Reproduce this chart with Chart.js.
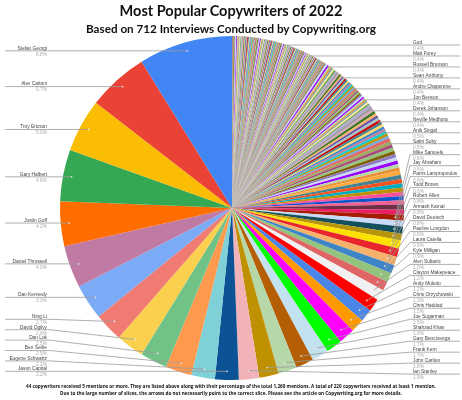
<!DOCTYPE html>
<html>
<head>
<meta charset="utf-8">
<script src="https://cdn.jsdelivr.net/npm/chart.js@4.4.1/dist/chart.umd.min.js"></script>
<style>
  body { margin: 0; background: #fff; }
  #wrap { position: relative; width: 462px; height: 400px; overflow: hidden; }
  .txt { position: absolute; left: 0; width: 462px; text-align: center; color: #111; white-space: nowrap; font-weight: 700; }
  #t1 { top: 2px; font: 700 14.5px Lato, sans-serif; line-height: 18px; }
  #t2 { top: 21px; font: 700 11.7px Lato, sans-serif; line-height: 14px; }
  .foot { font: 700 4.65px "Open Sans", sans-serif; line-height: 6px; }
</style>
</head>
<body>
<div id="wrap">
  <canvas id="chart" width="462" height="400"></canvas>
  <div class="txt" id="t1">Most Popular Copywriters of 2022</div>
  <div class="txt" id="t2">Based on 712 Interviews Conducted by Copywriting.org</div>
  <div class="txt foot" style="top:383px">44 copywriters received 5 mentions or more. They are listed above along with their percentage of the total 1,260 mentions. A total of 220 copywriters received at least 1 mention.</div>
  <div class="txt foot" style="top:389.5px">Due to the large number of slices, the arrows do not necessarily point to the correct slice. Please see the article on Copywriting.org for more details.</div>
</div>
<script>
// copywriters with 1-4 mentions (176 of them), smallest first
const smallMentions = [
  1,1,1,1,1,1,1,1,1,1,1,1,1,1,1,1,1,1,1,1,
  1,1,1,1,1,1,1,1,1,1,1,1,1,1,1,1,1,1,1,1,
  1,1,1,1,1,1,1,1,1,1,1,1,1,1,1,1,1,1,1,1,
  1,1,1,1,1,1,1,1,1,1,1,1,1,1,1,1,1,1,1,1,
  1,1,1,1,1,1,1,1,1,1,1,1,1,1,1,1,1,1,1,1,
  1,1,1,1,1,1,1,1,1,1,1,1,1,1,1,1,
  2,2,2,2,2,2,2,2,2,2,2,2,2,2,2,2,2,2,2,2,
  2,2,2,2,2,2,2,2,2,2,2,2,2,2,2,
  3,3,3,3,3,3,3,3,3,3,3,3,3,3,3,
  4,4,4,4,4,4,4,4,4,4
];

// the 44 named copywriters (5+ mentions), smallest first
const names = [
  "God", "Matt Furey", "Russell Brunson", "Sean Anthony", "Andre Chaperone",
  "Jon Benson", "Derek Johanson", "Neville Medhora", "Anik Singal", "Sabri Suby",
  "Mike Samuels", "Jay Abraham", "Parris Lampropoulos", "Todd Brown", "Robert Allen",
  "Armash Kamal", "David Deutsch", "Pauline Longdon", "Laura Catella", "Kyle Milligan",
  "Alen Sultanic", "Clayton Makepeace", "Andy Mukolo", "Chris Orzychowski", "Chris Haddad",
  "Joe Sugarman", "Shahzad Khan", "Gary Bencivenga", "Frank Kern", "John Carlton",
  "Ian Stanley", "Jason Capital", "Eugene Schwartz", "Ben Settle", "Dan Lok",
  "David Ogilvy", "Ning Li", "Dan Kennedy", "Daniel Throssell", "Justin Goff",
  "Gary Halbert", "Troy Ericson", "Alex Cattoni", "Stefan Georgi"
];
const mentions = [
  5, 5, 5, 5, 5,
  5, 5, 5, 6, 6,
  7, 7, 8, 8, 10,
  10, 10, 10, 11, 11,
  13, 15, 15, 16, 19,
  19, 20, 21, 22, 23,
  24, 28, 28, 31, 32,
  33, 34, 42, 50, 53,
  61, 63, 72, 111
];
const totalMentions = 1260;

const namedColors = [
  "#FFAB40", "#45818E", "#F4511E", "#00ACC1", "#BF9000",
  "#FF4F9A", "#1155CC", "#F06292", "#6D2E46", "#E91E63",
  "#A61C00", "#C9DAF8", "#134F5C", "#B7950B", "#FFE100",
  "#E8262C", "#F6B26B", "#3D85C6", "#93C47D", "#E06666",
  "#F1F1F1", "#FF0000", "#4A86E8", "#FF9900", "#FF00FF",
  "#00FF00", "#C3E2EF", "#B45F06", "#B6D7A8", "#BF9000",
  "#F2B3B8", "#0B5394", "#7ED1D7", "#FF994D", "#71C287",
  "#FCD04F", "#F07B72", "#7BAAF7", "#BF7BA3", "#FF6D01",
  "#34A853", "#FBBC04", "#EA4335", "#4285F4"
];
const smallPalette = [
  "#A64D79", "#93C47D", "#7F6000", "#8E7CC3", "#C9DAF8", "#9900FF", "#B6D7A8",
  "#E69138", "#76A5AF", "#FFE599", "#6AA84F", "#B4A7D6", "#999999", "#D5A6BD",
  "#38761D", "#F6B26B", "#674EA7", "#A2C4C9", "#CC0000", "#45818E", "#FFD966",
  "#3D85C6", "#C27BA0", "#00CFCF", "#BF9000", "#6FA8DC", "#E06666", "#9DAA5C"
];

const allLabels = smallMentions.map(() => "").concat(names);
const allValues = smallMentions.concat(mentions);
const allColors = smallMentions.map((v, i) => smallPalette[i % smallPalette.length]).concat(namedColors);

// spread label rows so they don't overlap
function spread(items, minY, maxY, gap) {
    items.sort((a, b) => a.y - b.y);
    for (let i = items.length - 1; i >= 0; i--) {
        const lim = i === items.length - 1 ? maxY : items[i + 1].y - gap;
        items[i].y = Math.min(items[i].y, lim);
    }
    for (let i = 0; i < items.length; i++) {
        const lim = i === 0 ? minY : items[i - 1].y + gap;
        items[i].y = Math.max(items[i].y, lim);
    }
}

const leaderLabels = {
    id: "leaderLabels",
    afterDatasetsDraw(chart) {
        const ctx = chart.ctx;
        const arcs = chart.getDatasetMeta(0).data;
        const left = [], right = [];
        let cx = 0, cy = 0, R = 0;
        for (let i = smallMentions.length; i < arcs.length; i++) {
            const a = arcs[i];
            cx = a.x; cy = a.y; R = a.outerRadius;
            const mid = (a.startAngle + a.endAngle) / 2;
            const ax = a.x + Math.cos(mid) * R * 0.95;
            const ay = a.y + Math.sin(mid) * R * 0.95;
            const item = { k: i - smallMentions.length, ax, ay, y: ay };
            (Math.cos(mid) >= 0 ? right : left).push(item);
        }
        spread(left, 50, 372, 10.4);
        spread(right, 45, 374, 10.97);

        ctx.save();
        ctx.strokeStyle = "#9a9a9a";
        ctx.lineWidth = 0.8;

        left.forEach(it => {
            ctx.beginPath();
            ctx.moveTo(5, it.y);
            ctx.lineTo(50, it.y);
            ctx.lineTo(it.ax, it.ay);
            ctx.stroke();
        });
        right.forEach(it => {
            ctx.beginPath();
            ctx.moveTo(460, it.y);
            ctx.lineTo(410, it.y);
            if (it.y < 150) {
                const edge = cx + Math.sqrt(Math.max(R * R - (it.y - cy) * (it.y - cy), 0));
                ctx.lineTo(edge - 3, it.y);
            } else {
                ctx.lineTo(it.ax, it.ay);
            }
            ctx.stroke();
        });

        // little dots where the lines land
        ctx.fillStyle = "rgba(255,255,255,0.7)";
        left.concat(right.filter(it => it.y >= 150)).forEach(it => {
            ctx.beginPath();
            ctx.arc(it.ax, it.ay, 0.9, 0, Math.PI * 2);
            ctx.fill();
        });

        ctx.font = '4.8px "Liberation Sans", Arial, sans-serif';
        const pct = k => (mentions[k] / totalMentions * 100).toFixed(1) + "%";
        ctx.textAlign = "right";
        left.forEach(it => {
            ctx.fillStyle = "#444";
            ctx.textBaseline = "alphabetic";
            ctx.fillText(names[it.k], 47, it.y - 1.2);
            ctx.fillStyle = "#aaa";
            ctx.textBaseline = "top";
            ctx.fillText(pct(it.k), 47, it.y + 1.2);
        });
        ctx.textAlign = "left";
        right.forEach(it => {
            ctx.fillStyle = "#444";
            ctx.textBaseline = "alphabetic";
            ctx.fillText(names[it.k], 413, it.y - 1.2);
            ctx.fillStyle = "#aaa";
            ctx.textBaseline = "top";
            ctx.fillText(pct(it.k), 413, it.y + 1.2);
        });
        ctx.restore();
    }
};

new Chart(document.getElementById("chart"), {
    type: "pie",
    data: {
        labels: allLabels,
        datasets: [{
            data: allValues,
            backgroundColor: allColors,
            borderWidth: 0,
            offset: 0,
            hoverOffset: 0
        }]
    },
    options: {
        responsive: false,
        animation: false,
        layout: { padding: { left: 60, right: 58, top: 36, bottom: 20 } },
        plugins: {
            legend: { display: false },
            tooltip: { enabled: false }
        }
    },
    plugins: [leaderLabels]
});
</script>
</body>
</html>
